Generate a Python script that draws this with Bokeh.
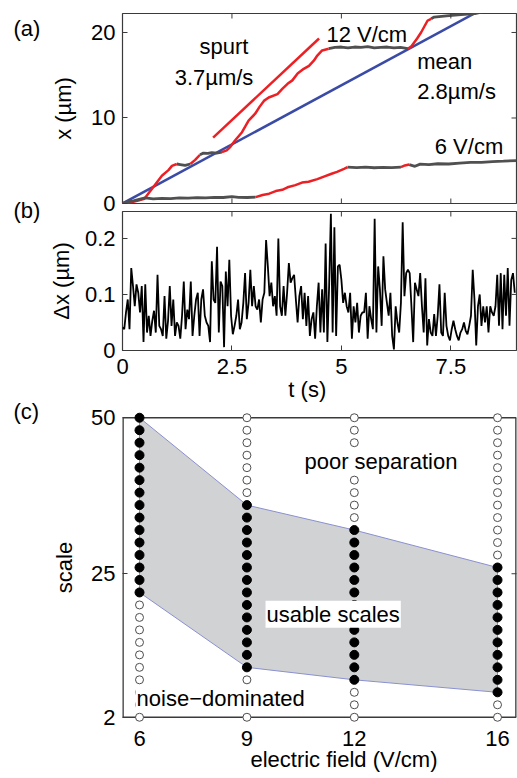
import numpy as np
from bokeh.plotting import figure
from bokeh.models import Range1d, FixedTicker, Label
from bokeh.layouts import column, row
from bokeh.embed import file_html
from bokeh.resources import INLINE

# ---------------- data ----------------
# (a) bead trajectories: time (s), position (um), 1 = moving segment (red), 0 = stalled (gray)
traj12_t = [0.00, 0.20, 0.36, 0.50, 0.67, 0.90, 1.05, 1.13, 1.24, 1.32, 1.43, 1.55, 1.66, 1.77,
            1.85, 1.95, 2.04, 2.15, 2.27, 2.38, 2.46, 2.57, 2.73, 2.88, 3.03, 3.13, 3.23, 3.34,
            3.54, 3.65, 3.77, 3.88, 4.00, 4.14, 4.26, 4.37, 4.45, 4.56, 4.71, 4.85, 5.00, 5.15,
            5.30, 5.45, 5.60, 5.75, 5.90, 6.05, 6.20, 6.35, 6.52, 6.60, 6.73, 6.82, 6.97, 7.05,
            7.12, 7.40, 7.73, 8.05, 8.30]
traj12_x = [0.00, 0.15, 0.35, 0.55, 1.70, 3.25, 3.90, 4.40, 4.62, 4.55, 4.45, 4.62, 5.10, 5.70,
            5.90, 5.85, 5.95, 5.90, 6.00, 6.22, 6.60, 7.36, 8.34, 9.70, 10.50, 11.30, 12.00, 12.40,
            12.80, 13.40, 14.00, 14.40, 15.20, 15.75, 16.10, 16.70, 17.30, 17.90, 18.10, 18.25, 18.30, 18.20,
            18.30, 18.25, 18.35, 18.20, 18.25, 18.30, 18.20, 18.25, 18.10, 18.40, 19.30, 20.00, 21.40, 21.60,
            21.80, 21.95, 22.10, 22.20, 22.50]
traj12_moving = [1, 1, 1, 1, 1, 1, 1, 1, 0, 0, 0, 1, 1, 0,
                 0, 0, 0, 0, 1, 1, 1, 1, 1, 1, 1, 1, 1, 1,
                 1, 1, 1, 1, 1, 1, 1, 1, 1, 1, 0, 0, 0, 0,
                 0, 0, 0, 0, 0, 0, 0, 0, 1, 1, 1, 1, 1, 0,
                 0, 0, 0, 0, 0]

traj6_t = [0.00, 0.10, 0.25, 0.40, 0.52, 0.70, 0.90, 1.10, 1.30, 1.50, 1.70, 1.90, 2.10, 2.30,
           2.50, 2.65, 2.85, 3.04, 3.20, 3.35, 3.50, 3.65, 3.77, 3.95, 4.10, 4.25, 4.45, 4.60,
           4.76, 4.90, 5.06, 5.14, 5.35, 5.55, 5.75, 5.95, 6.15, 6.36, 6.45, 6.55, 6.68, 6.80,
           7.00, 7.20, 7.45, 7.70, 7.95, 8.20, 8.45, 8.70, 9.00]
traj6_x = [0.00, 0.20, 0.30, 0.50, 0.65, 0.55, 0.60, 0.58, 0.65, 0.62, 0.68, 0.66, 0.72, 0.70,
           0.80, 0.72, 0.70, 0.75, 1.00, 1.15, 1.45, 1.60, 1.90, 2.15, 2.45, 2.55, 2.85, 3.15,
           3.45, 3.70, 4.05, 4.25, 4.20, 4.25, 4.18, 4.22, 4.20, 4.25, 4.45, 4.55, 4.35, 4.60,
           4.55, 4.65, 4.62, 4.72, 4.80, 4.82, 4.90, 4.95, 5.02]
traj6_moving = [0, 0, 0, 0, 0, 0, 0, 0, 0, 0, 0, 0, 0, 0,
                0, 0, 0, 1, 1, 1, 1, 1, 1, 1, 1, 1, 1, 1,
                1, 1, 1, 0, 0, 0, 0, 0, 0, 1, 1, 0, 0, 0,
                0, 0, 0, 0, 0, 0, 0, 0, 0]

spurt_t = [2.07, 4.49]
spurt_x = [7.7, 19.3]
mean_t = [0.0, 8.3]
mean_x = [0.0, 22.95]

# (b) step sizes (um), one per video frame
frame_interval_s = 0.04
dx_um = [0.041, 0.038, 0.068, 0.091, 0.038, 0.147, 0.115, 0.079, 0.118, 0.103, 0.068, 0.115, 0.015, 0.118,
         0.032, 0.062, 0.026, 0.053, 0.071, 0.032, 0.135, 0.044, 0.038, 0.026, 0.097, 0.021, 0.053, 0.115,
         0.044, 0.091, 0.026, 0.050, 0.044, 0.021, 0.062, 0.123, 0.038, 0.073, 0.056, 0.123, 0.026, 0.062,
         0.091, 0.103, 0.026, 0.091, 0.109, 0.062, 0.050, 0.044, 0.015, 0.159, 0.091, 0.085, 0.185, 0.032,
         0.123,
         0.115, 0.006, 0.141, 0.079, 0.162, 0.062, 0.029, 0.044, 0.062, 0.091, 0.038, 0.050, 0.085, 0.138,
         0.056, 0.085, 0.144, 0.079, 0.115, 0.079, 0.073, 0.091, 0.050, 0.091, 0.103, 0.197, 0.150, 0.097,
         0.121, 0.079, 0.097, 0.062, 0.200, 0.079, 0.062, 0.115, 0.062, 0.103, 0.156, 0.121, 0.129, 0.135,
         0.091, 0.050, 0.097, 0.115, 0.056, 0.103, 0.044, 0.097, 0.026, 0.056, 0.068, 0.021, 0.079, 0.121,
         0.032, 0.109,
         0.032, 0.191, 0.015, 0.115, 0.244, 0.032, 0.220, 0.026, 0.150, 0.153, 0.126, 0.085, 0.103, 0.079,
         0.068, 0.103, 0.021, 0.079, 0.050, 0.085, 0.032, 0.062, 0.068, 0.068, 0.103, 0.021, 0.079, 0.056,
         0.038, 0.235, 0.032, 0.150, 0.109, 0.044, 0.168, 0.109, 0.085, 0.062, 0.103, 0.026, 0.002, 0.079,
         0.050, 0.032, 0.085, 0.229, 0.097, 0.138, 0.144, 0.138, 0.079, 0.015, 0.121, 0.109, 0.097, 0.138,
         0.079, 0.032, 0.129, 0.009, 0.056, 0.032, 0.026, 0.065, 0.026, 0.062, 0.118, 0.032, 0.026, 0.103,
         0.044, 0.026, 0.018, 0.038, 0.053, 0.038, 0.026, 0.018, 0.032, 0.038, 0.050, 0.035, 0.029, 0.044,
         0.062, 0.144, 0.091, 0.009, 0.079, 0.100, 0.044, 0.079, 0.050, 0.079, 0.032, 0.079, 0.068, 0.062,
         0.079, 0.135, 0.044, 0.138, 0.038, 0.135, 0.062, 0.147, 0.044, 0.126, 0.138, 0.103]

# (c) scale selection per electric field
fields = [6, 9, 12, 16]
scales = [2, 4, 6, 8, 10, 12, 14, 16, 18, 20, 22, 24, 26, 28, 30, 32, 34, 36, 38, 40, 42, 44, 46, 48, 50]
usable_low = [22, 10, 8, 6]
usable_high = [50, 36, 32, 26]

# tick values
a_xticks = [2.5, 5, 7.5]
a_yticks = [0, 10, 20]
b_xticks = [0, 2.5, 5, 7.5]
b_yticks = [0, 0.1, 0.2]
c_yticks = [2, 25, 50]

# ---------------- style ----------------
FONT = "Liberation Sans"
FS = "22px"
FRAME = "#3a3a3a"
RED = "#ec2024"
GRAY = "#505050"
BLUE = "#3a4ba6"
W_MAIN = 472
W_LETTERS = 45
NB = "\u00a0"


def base(height, top, bottom, x_range, y_range, xaxis=True):
    p = figure(width=W_MAIN, height=height, x_range=x_range, y_range=y_range,
               output_backend="svg", toolbar_location=None,
               x_axis_location="below" if xaxis else None,
               min_border_left=77, min_border_right=1,
               min_border_top=top, min_border_bottom=bottom)
    p.grid.visible = False
    p.outline_line_color = FRAME
    p.outline_line_width = 1.2
    p.background_fill_color = "white"
    p.border_fill_color = "white"
    for ax in p.axis:
        ax.axis_line_color = None
        ax.major_tick_in = 5
        ax.major_tick_out = 0
        ax.major_tick_line_color = FRAME
        ax.minor_tick_line_color = None
        ax.major_label_text_font = FONT
        ax.major_label_text_font_size = FS
        ax.major_label_text_color = "black"
        ax.axis_label_text_font = FONT
        ax.axis_label_text_font_size = FS
        ax.axis_label_text_font_style = "normal"
        ax.axis_label_text_color = "black"
    return p


def edge_ticks(p, xs, y_edge, ys, x_edge):
    # inward tick marks on the mirrored (top / right) frame edges; half of each dash is clipped
    if xs:
        p.scatter(xs, [y_edge] * len(xs), marker="dash", size=10, angle=np.pi / 2,
                  line_color=FRAME, line_width=1)
    if ys:
        p.scatter([x_edge] * len(ys), ys, marker="dash", size=10,
                  line_color=FRAME, line_width=1)


def lab(p, x, y, text, align="left", bg=None, size=FS):
    p.add_layout(Label(x=x, y=y, text=text, text_font=FONT, text_font_size=size,
                       text_color="black", text_align=align, text_baseline="middle",
                       background_fill_color=bg, padding=1))


def runs(ts, xs, flags):
    out = {0: ([], []), 1: ([], [])}
    start = 0
    n = len(ts)
    for i in range(1, n):
        if i == n - 1 or flags[i] != flags[start]:
            out[flags[start]][0].append(ts[start:i + 1])
            out[flags[start]][1].append(xs[start:i + 1])
            start = i
    return out


# ---------------- panel (a) ----------------
xa, ya = Range1d(0, 9.0), Range1d(0, 22.22)
pa = base(211, 13, 8, xa, ya, xaxis=False)
pa.line(mean_t, mean_x, line_color=BLUE, line_width=2.5)
pa.line(spurt_t, spurt_x, line_color=RED, line_width=2.5)
for tt, xx, ff in [(traj12_t, traj12_x, traj12_moving), (traj6_t, traj6_x, traj6_moving)]:
    r = runs(tt, xx, ff)
    pa.multi_line(r[0][0], r[0][1], line_color=GRAY, line_width=2.8)
    pa.multi_line(r[1][0], r[1][1], line_color=RED, line_width=2.5)
pa.yaxis.ticker = FixedTicker(ticks=a_yticks)
pa.yaxis.axis_label = "x (µm)"
pa.yaxis.axis_label_standoff = 12
pa.yaxis.major_label_standoff = 7
edge_ticks(pa, a_xticks, ya.start, [], None)
edge_ticks(pa, a_xticks, ya.end, a_yticks[1:], xa.end)
lab(pa, 2.318, 18.4, "spurt", align="center")
lab(pa, 2.09, 14.68, "3.7µm/s", align="center")
lab(pa, 4.637, 19.74, "12 V/cm")
lab(pa, 6.71, 16.57, "mean")
lab(pa, 6.71, 13.12, "2.8µm/s")
lab(pa, 7.11, 6.69, "6 V/cm")

# ---------------- panel (b) ----------------
t_b = np.arange(len(dx_um)) * frame_interval_s
xb, yb = Range1d(0, 9.0), Range1d(0, 0.248)
pb = base(198, 0, 59, xb, yb)
pb.line(t_b, dx_um, line_color="black", line_width=1.8)
pb.xaxis.ticker = FixedTicker(ticks=b_xticks)
pb.xaxis.major_label_overrides = {0: "0", 2.5: "2.5", 5: "5", 7.5: "7.5"}
pb.xaxis.major_label_standoff = 8
pb.xaxis.axis_label = "t (s)" + NB * 4
pb.xaxis.axis_label_standoff = 0
pb.yaxis.ticker = FixedTicker(ticks=b_yticks)
pb.yaxis.major_label_overrides = {0: "0", 0.1: "0.1", 0.2: "0.2"}
pb.yaxis.major_label_standoff = 7
pb.yaxis.axis_label = "Δx (µm)"
pb.yaxis.axis_label_standoff = 8
edge_ticks(pb, a_xticks, yb.end, b_yticks[1:], xb.end)

# ---------------- panel (c) ----------------
xc, yc = Range1d(5.525, 16.53), Range1d(1, 51)
pc = base(369, 2, 55, xc, yc)
pc.outline_line_color = None
pc.patch(fields + fields[::-1], usable_high + usable_low[::-1],
         fill_color="#d1d2d4", line_color="#8a90d0", line_width=1)
# axes box around scale 2..50 (vertical edges sit on the frame edge, half of their width is clipped)
box_lo, box_hi = c_yticks[0], c_yticks[-1]
pc.multi_line([[xc.start, xc.end], [xc.start, xc.end]], [[box_lo, box_lo], [box_hi, box_hi]],
              line_color=FRAME, line_width=1.3)
pc.multi_line([[xc.start, xc.start], [xc.end, xc.end]], [[box_lo, box_hi], [box_lo, box_hi]],
              line_color=FRAME, line_width=2.6)
fx, fy, ox, oy = [], [], [], []
for f, lo, hi in zip(fields, usable_low, usable_high):
    for s in scales:
        if lo <= s <= hi:
            fx.append(f)
            fy.append(s)
        else:
            ox.append(f)
            oy.append(s)
pc.scatter(ox, oy, marker="circle", size=8, fill_color="white", line_color="#4d4d4d", line_width=1)
pc.scatter(fx, fy, marker="circle", size=9, fill_color="black", line_color="black")
pc.xaxis.ticker = FixedTicker(ticks=fields)
pc.xaxis.major_tick_in = 0
pc.xaxis.major_label_standoff = 7
pc.xaxis.axis_label = NB * 8 + "electric field (V/cm)"
pc.xaxis.axis_label_standoff = -2
pc.yaxis.ticker = FixedTicker(ticks=c_yticks)
pc.yaxis.major_label_standoff = 7
pc.yaxis.axis_label = "scale"
pc.yaxis.axis_label_standoff = 11
edge_ticks(pc, [], None, [c_yticks[1]], xc.end)
lab(pc, 10.58, 43.0, "poor separation", bg="white")
lab(pc, 9.52, 18.5, "usable scales", bg="white")
lab(pc, 5.89, 4.98, "noise\u2212dominated", bg="white")

# ---------------- panel letters (one strip spanning all panels) ----------------
pl = figure(width=W_LETTERS, height=778, x_range=Range1d(0, W_LETTERS), y_range=Range1d(778, 0),
            output_backend="svg", toolbar_location=None,
            x_axis_location=None, y_axis_location=None, min_border=0)
pl.grid.visible = False
pl.outline_line_color = None
pl.border_fill_color = "white"
lab(pl, 12, 27.5, "(a)")
lab(pl, 12, 210, "(b)")
lab(pl, 12, 410.5, "(c)")

layout = row(pl, column(pa, pb, pc, spacing=0), spacing=0)
open("out.html", "w").write(file_html(layout, INLINE))
